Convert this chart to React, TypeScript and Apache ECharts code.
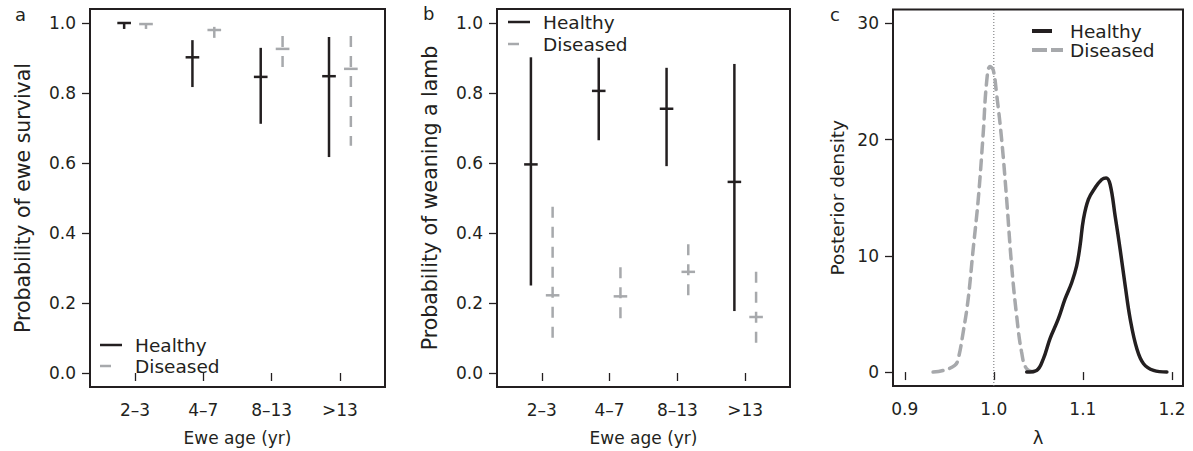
import React, { useEffect, useRef } from "react";
import * as echarts from "echarts";

// ---------- data ----------
const categories = ["2–3", "4–7", "8–13", ">13"];
const probTicks = [0, 0.2, 0.4, 0.6, 0.8, 1.0];
const densityTicks = [0, 10, 20, 30];
const lambdaTicks = [0.9, 1.0, 1.1, 1.2];

// panel a: probability of ewe survival (median, lower, upper)
const survHealthyMed = [1.0, 0.902, 0.846, 0.848];
const survHealthyLo = [0.983, 0.817, 0.712, 0.617];
const survHealthyHi = [1.0, 0.951, 0.929, 0.96];
const survDiseasedMed = [0.997, 0.98, 0.926, 0.869];
const survDiseasedLo = [0.983, 0.951, 0.871, 0.649];
const survDiseasedHi = [1.0, 0.989, 0.963, 0.963];

// panel b: probability of weaning a lamb
const weanHealthyMed = [0.596, 0.806, 0.755, 0.546];
const weanHealthyLo = [0.25, 0.665, 0.591, 0.177];
const weanHealthyHi = [0.902, 0.901, 0.872, 0.883];
const weanDiseasedMed = [0.222, 0.219, 0.289, 0.16];
const weanDiseasedLo = [0.08, 0.147, 0.215, 0.072];
const weanDiseasedHi = [0.475, 0.302, 0.368, 0.289];

// panel c: posterior density of lambda
const lambdaDiseasedX = [0.9318, 0.9431, 0.9562, 0.96, 0.9656, 0.9712, 0.9768, 0.9825, 0.9881, 0.9918, 0.9956, 0.9993, 1.003, 1.0088, 1.0144, 1.02, 1.0256, 1.0312, 1.0369, 1.048];
const lambdaDiseasedY = [0, 0.14, 0.57, 1.14, 3.43, 6.29, 10.57, 14.86, 20.57, 24.86, 26.29, 26.0, 24.0, 20.0, 14.86, 9.14, 4.86, 1.71, 0.29, 0];
const lambdaHealthyX = [1.0369, 1.048, 1.0556, 1.063, 1.0724, 1.08, 1.0875, 1.093, 1.0968, 1.1006, 1.1062, 1.1137, 1.1212, 1.1261, 1.1306, 1.1362, 1.1418, 1.1475, 1.1531, 1.1606, 1.1681, 1.1793, 1.1943];
const lambdaHealthyY = [0, 0.14, 1.14, 2.86, 4.57, 6.29, 7.71, 9.14, 10.86, 13.14, 14.86, 15.86, 16.57, 16.71, 16.14, 13.43, 10.57, 7.43, 4.57, 2.0, 0.71, 0.14, 0];
const referenceLambda = 1.0;

// ---------- style ----------
const INK = "#231f20";
const GREY = "#a7a9ac";
const FONT = "DejaVu Sans";
const OFFSET = 0.16;
const HALF_TICK = 0.1;

function errorRows(med: number[], lo: number[], hi: number[], off: number) {
  return med.map((m, i) => [i + 1 + off, lo[i], m, hi[i]]);
}

function errorSeries(gridIndex: number, data: number[][], color: string, dashed: boolean) {
  return {
    type: "custom",
    xAxisIndex: gridIndex,
    yAxisIndex: gridIndex,
    data,
    clip: false,
    renderItem: (params: any, api: any) => {
      const x = api.value(0);
      const lo = api.value(1);
      const mid = api.value(2);
      const hi = api.value(3);
      const top = api.coord([x, hi]);
      const bot = api.coord([x, lo]);
      const ml = api.coord([x - HALF_TICK, mid]);
      const mr = api.coord([x + HALF_TICK, mid]);
      return {
        type: "group",
        children: [
          {
            type: "line",
            shape: { x1: top[0], y1: top[1], x2: bot[0], y2: bot[1] },
            style: { stroke: color, lineWidth: 2.5, lineDash: dashed ? [11, 9] : null },
          },
          {
            type: "line",
            shape: { x1: ml[0], y1: ml[1], x2: mr[0], y2: mr[1] },
            style: { stroke: color, lineWidth: 2.5 },
          },
        ],
      };
    },
  };
}

const tickLabel = { color: INK, fontSize: 17, fontFamily: FONT };

function catXAxis(gridIndex: number) {
  return {
    type: "value",
    gridIndex,
    min: 0.34,
    max: 4.66,
    axisLine: { show: false },
    splitLine: { show: false },
    axisTick: { show: true, length: 8, customValues: [1, 2, 3, 4], lineStyle: { color: INK, width: 1.3 } },
    axisLabel: {
      ...tickLabel,
      margin: 14,
      customValues: [1, 2, 3, 4],
      formatter: (v: number) => categories[Math.round(v) - 1],
    },
    name: "Ewe age (yr)",
    nameLocation: "middle",
    nameGap: 42,
    nameTextStyle: { color: INK, fontSize: 17, fontFamily: FONT },
  };
}

function probYAxis(gridIndex: number, name: string) {
  return {
    type: "value",
    gridIndex,
    min: -0.04,
    max: 1.04,
    axisLine: { show: false },
    splitLine: { show: false },
    axisTick: { show: true, length: 8, customValues: probTicks, lineStyle: { color: INK, width: 1.3 } },
    axisLabel: { ...tickLabel, margin: 14, customValues: probTicks, formatter: (v: number) => v.toFixed(1) },
    name,
    nameLocation: "middle",
    nameGap: 57,
    nameTextStyle: { color: INK, fontSize: 20.5, fontFamily: FONT },
  };
}

function legendItems(x: number, y1: number, y2: number, cDash: boolean) {
  const items: any[] = [];
  if (cDash) {
    items.push({ type: "line", shape: { x1: x, y1, x2: x + 20, y2: y1 }, style: { stroke: INK, lineWidth: 4 } });
    items.push({ type: "line", shape: { x1: x, y1: y2, x2: x + 31, y2: y2 }, style: { stroke: GREY, lineWidth: 4, lineDash: [15, 4] } });
  } else {
    items.push({ type: "line", shape: { x1: x, y1, x2: x + 22, y2: y1 }, style: { stroke: INK, lineWidth: 2.5 } });
    items.push({ type: "line", shape: { x1: x, y1: y2, x2: x + 11, y2: y2 }, style: { stroke: GREY, lineWidth: 2.5 } });
  }
  const tx = cDash ? x + 38 : x + 35;
  items.push({ type: "text", x: tx, y: y1, style: { text: "Healthy", fill: INK, fontSize: 18.5, fontFamily: FONT, verticalAlign: "middle" } });
  items.push({ type: "text", x: tx, y: y2, style: { text: "Diseased", fill: INK, fontSize: 18.5, fontFamily: FONT, verticalAlign: "middle" } });
  return items;
}

export default function App() {
  const ref = useRef<HTMLDivElement>(null);
  useEffect(() => {
    if (!ref.current) return;
    const chart = echarts.init(ref.current, null, { renderer: "svg" });
    const gridBase = { show: true, borderColor: INK, borderWidth: 2, backgroundColor: "transparent", containLabel: false };
    const option: any = {
      animation: false,
      backgroundColor: "#ffffff",
      grid: [
        { ...gridBase, left: 90, top: 9, width: 295, height: 378 },
        { ...gridBase, left: 497, top: 9, width: 293, height: 378 },
        { ...gridBase, left: 893, top: 9.5, width: 290, height: 378 },
      ],
      xAxis: [
        catXAxis(0),
        catXAxis(1),
        {
          type: "value",
          gridIndex: 2,
          min: 0.8868,
          max: 1.2124,
          axisLine: { show: false },
          splitLine: { show: false },
          axisTick: { show: true, length: 8, customValues: lambdaTicks, lineStyle: { color: INK, width: 1.3 } },
          axisLabel: { ...tickLabel, margin: 14, customValues: lambdaTicks, formatter: (v: number) => v.toFixed(1) },
          name: "λ",
          nameLocation: "middle",
          nameGap: 42,
          nameTextStyle: { color: INK, fontSize: 18, fontFamily: FONT },
        },
      ],
      yAxis: [
        probYAxis(0, "Probability of ewe survival"),
        probYAxis(1, "Probability of weaning a lamb"),
        {
          type: "value",
          gridIndex: 2,
          min: -1.2,
          max: 31.2,
          axisLine: { show: false },
          splitLine: { show: false },
          axisTick: { show: true, length: 8, customValues: densityTicks, lineStyle: { color: INK, width: 1.3 } },
          axisLabel: { ...tickLabel, margin: 14, customValues: densityTicks, formatter: (v: number) => String(v) },
          name: "Posterior density",
          nameLocation: "middle",
          nameGap: 46,
          nameTextStyle: { color: INK, fontSize: 18.5, fontFamily: FONT },
        },
      ],
      series: [
        errorSeries(0, errorRows(survHealthyMed, survHealthyLo, survHealthyHi, -OFFSET), INK, false),
        errorSeries(0, errorRows(survDiseasedMed, survDiseasedLo, survDiseasedHi, OFFSET), GREY, true),
        errorSeries(1, errorRows(weanHealthyMed, weanHealthyLo, weanHealthyHi, -OFFSET), INK, false),
        errorSeries(1, errorRows(weanDiseasedMed, weanDiseasedLo, weanDiseasedHi, OFFSET), GREY, true),
        {
          type: "line",
          xAxisIndex: 2,
          yAxisIndex: 2,
          data: [[referenceLambda, -1.2], [referenceLambda, 31.2]],
          symbol: "none",
          lineStyle: { color: "#6d6e71", width: 1, type: [1, 2] },
        },
        {
          type: "line",
          xAxisIndex: 2,
          yAxisIndex: 2,
          data: lambdaDiseasedX.map((x, i) => [x, lambdaDiseasedY[i]]),
          symbol: "none",
          smooth: 0.4,
          lineStyle: { color: GREY, width: 3.5, type: [10, 7], cap: "round" },
        },
        {
          type: "line",
          xAxisIndex: 2,
          yAxisIndex: 2,
          data: lambdaHealthyX.map((x, i) => [x, lambdaHealthyY[i]]),
          symbol: "none",
          smooth: 0.4,
          lineStyle: { color: INK, width: 3.5, cap: "round" },
        },
      ],
      graphic: [
        { type: "text", x: 15, y: 14, style: { text: "a", fill: INK, fontSize: 18, fontFamily: FONT, verticalAlign: "middle" } },
        { type: "text", x: 423, y: 13, style: { text: "b", fill: INK, fontSize: 18, fontFamily: FONT, verticalAlign: "middle" } },
        { type: "text", x: 830, y: 14, style: { text: "c", fill: INK, fontSize: 18, fontFamily: FONT, verticalAlign: "middle" } },
        ...legendItems(100, 345, 366, false),
        ...legendItems(508, 22, 44, false),
        ...legendItems(1032, 31, 50, true),
      ],
    };
    chart.setOption(option);
    return () => chart.dispose();
  }, []);
  return (
    <div
      ref={ref}
      style={{ position: "fixed", left: 0, top: 0, width: 1193, height: 451, background: "#fff" }}
    />
  );
}
